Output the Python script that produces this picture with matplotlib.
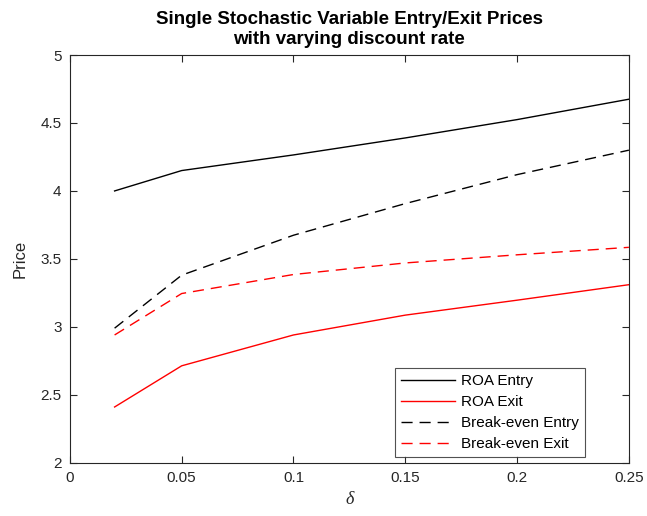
import matplotlib
matplotlib.use("Agg")
import matplotlib.pyplot as plt

plt.rcParams['font.family'] = ['Liberation Sans', 'DejaVu Sans']

delta = [0.02, 0.05, 0.10, 0.15, 0.20, 0.25]
roa_entry = [4.00, 4.15, 4.265, 4.39, 4.525, 4.675]
roa_exit = [2.41, 2.713, 2.94, 3.086, 3.196, 3.31]
be_entry = [2.99, 3.38, 3.674, 3.907, 4.12, 4.30]
be_exit = [2.94, 3.245, 3.385, 3.47, 3.53, 3.585]

xticks = [0, 0.05, 0.1, 0.15, 0.2, 0.25]
xticklabels = ['0', '0.05', '0.1', '0.15', '0.2', '0.25']
yticks = [2, 2.5, 3, 3.5, 4, 4.5, 5]
yticklabels = ['2', '2.5', '3', '3.5', '4', '4.5', '5']

fig = plt.figure(figsize=(6.47, 5.16), dpi=100)
ax = fig.add_axes([0.108, 0.1033, 0.864, 0.79])

ax.plot(delta, roa_entry, color='black', lw=1.0, label='ROA Entry')
ax.plot(delta, roa_exit, color='red', lw=1.0, label='ROA Exit')
ax.plot(delta, be_entry, color='black', lw=1.0, ls=(0, (8, 5)), label='Break-even Entry')
ax.plot(delta, be_exit, color='red', lw=1.0, ls=(0, (8, 5)), label='Break-even Exit')

ax.set_xlim(0, 0.25)
ax.set_ylim(2, 5)
ax.set_xticks(xticks)
ax.set_xticklabels(xticklabels)
ax.set_yticks(yticks)
ax.set_yticklabels(yticklabels)
ax.tick_params(direction='in', top=True, right=True, length=5, width=0.8,
               labelsize=11, colors='#262626', pad=6)
for s in ax.spines.values():
    s.set_color('#262626')
    s.set_linewidth(0.8)

ax.set_title('Single Stochastic Variable Entry/Exit Prices\nwith varying discount rate',
             fontsize=13.5, fontweight='bold', linespacing=1.2, pad=8)
ax.set_xlabel('δ', family='Liberation Serif', style='italic', fontsize=13,
              color='#262626', labelpad=4)
ax.set_ylabel('Price', fontsize=12, color='#262626', labelpad=9)

leg = ax.legend(loc='lower right', bbox_to_anchor=(0.921, 0.014), fontsize=11,
                frameon=True, fancybox=False, edgecolor='#262626',
                handlelength=3.5, handletextpad=0.4, borderpad=0.4,
                labelspacing=0.45, borderaxespad=0)
leg.get_frame().set_linewidth(0.8)

fig.savefig('out.png', dpi=100)
